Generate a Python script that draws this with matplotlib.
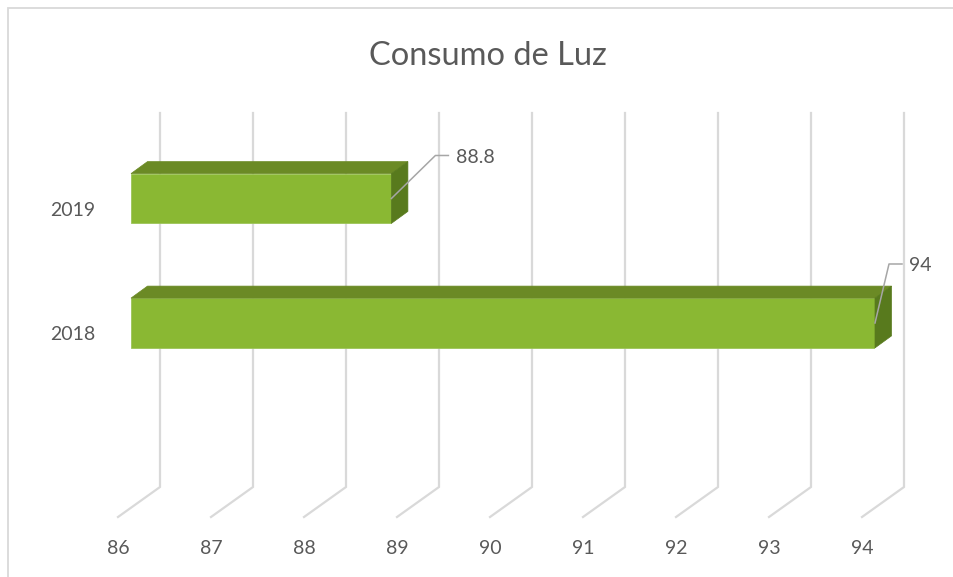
"""Consumo de Luz: pseudo-3D horizontal bar chart (Excel style)."""

import matplotlib

matplotlib.use("Agg")
import matplotlib.pyplot as plt
from matplotlib.lines import Line2D
from matplotlib.patches import Polygon, Rectangle
from matplotlib.transforms import IdentityTransform

# data
years = ["2018", "2019"]
consumo = [94, 88.8]
value_labels = ["94", "88.8"]
x_ticks = [86, 87, 88, 89, 90, 91, 92, 93, 94]
title = "Consumo de Luz"

# styling
W, H = 954, 577
FRONT = "#8AB833"
TOP = "#6B8A25"
SIDE = "#587A1D"
EDGE = "#9CC458"
GRID = "#D9D9D9"
TEXT = "#595959"
LEADER = "#A6A6A6"
BACK = (29, 21)      # pixel offset from bar-front plane to back wall
FLOOR = (-13, -9)    # pixel offset from bar-front plane to front of floor
DEPTH = (16.5, 12)   # bar depth in pixels
# (elbow dx, dy, text dx, dy) per label, in pixels from bar end
LABEL_OFFSETS = [(14, 59, 34, 57), (44, 43, 65, 41)]

plt.rcParams["font.family"] = ["Lato", "DejaVu Sans"]

fig = plt.figure(figsize=(W / 100, H / 100), dpi=100)
ax = fig.add_axes([131 / W, (H - 508) / H, (875 - 131) / W, (508 - 134) / H])
ax.set_xlim(x_ticks[0], x_ticks[-1])
ax.set_ylim(-1.486, 1.518)
ax.axis("off")
ybot, ytop = ax.get_ylim()
disp = ax.transData.transform
ident = IdentityTransform()

# outer chart border (only left and top visible)
fig.add_artist(Rectangle((8 / W, -0.1), 1.2, 1.1 - 8 / H, transform=fig.transFigure,
                         fill=False, edgecolor=GRID, lw=1.3))

# back wall gridlines with floor diagonals
for v in x_ticks:
    x0, y0 = disp((v, ybot))
    x1, y1 = disp((v, ytop))
    xs = [x1 + BACK[0], x0 + BACK[0], x0 + FLOOR[0]]
    ys = [y1 + BACK[1], y0 + BACK[1], y0 + FLOOR[1]]
    ax.add_line(Line2D(xs, ys, transform=ident, color=GRID, lw=1.6,
                       clip_on=False, zorder=1, solid_joinstyle="miter"))
    ax.text(x0 + FLOOR[0], y0 + FLOOR[1] - 32, str(v), transform=ident,
            ha="center", va="center", fontsize=14, color=TEXT)

# bars: front face + top and side faces
pos = list(range(len(years)))
base = x_ticks[0]
bh = 0.4
ax.barh(pos, [c - base for c in consumo], left=base, height=bh,
        color=FRONT, edgecolor=EDGE, lw=0.6, zorder=3)
for i, c in enumerate(consumo):
    lx, ty = disp((base, i + bh / 2))
    rx, by = disp((c, i - bh / 2))
    dx, dy = DEPTH
    top = [(lx, ty), (rx, ty), (rx + dx, ty + dy), (lx + dx, ty + dy)]
    side = [(rx, ty), (rx, by), (rx + dx, by + dy), (rx + dx, ty + dy)]
    ax.add_patch(Polygon(top, closed=True, transform=ident, facecolor=TOP,
                         edgecolor=TOP, lw=0.5, zorder=3, clip_on=False))
    ax.add_patch(Polygon(side, closed=True, transform=ident, facecolor=SIDE,
                         edgecolor=SIDE, lw=0.5, zorder=3, clip_on=False))

    # category label
    cx, cy = disp((base, i))
    ax.text(cx + FLOOR[0] - 23, cy + FLOOR[1] - 3, years[i], transform=ident,
            ha="right", va="center", fontsize=14, color=TEXT)

    # data label with leader line
    ex, ey = disp((c, i))
    edx, edy, tdx, tdy = LABEL_OFFSETS[i]
    ax.add_line(Line2D([ex, ex + edx, ex + edx + 13], [ey, ey + edy, ey + edy],
                       transform=ident, color=LEADER, lw=1.1, zorder=4, clip_on=False))
    ax.text(ex + tdx, ey + tdy, value_labels[i], transform=ident,
            ha="left", va="center", fontsize=14, color=TEXT, zorder=5)

fig.text(488 / W, 1 - 56 / H, title, ha="center", va="center",
         fontsize=23.5, color=TEXT)

fig.savefig("out.png", dpi=100, facecolor="white")
